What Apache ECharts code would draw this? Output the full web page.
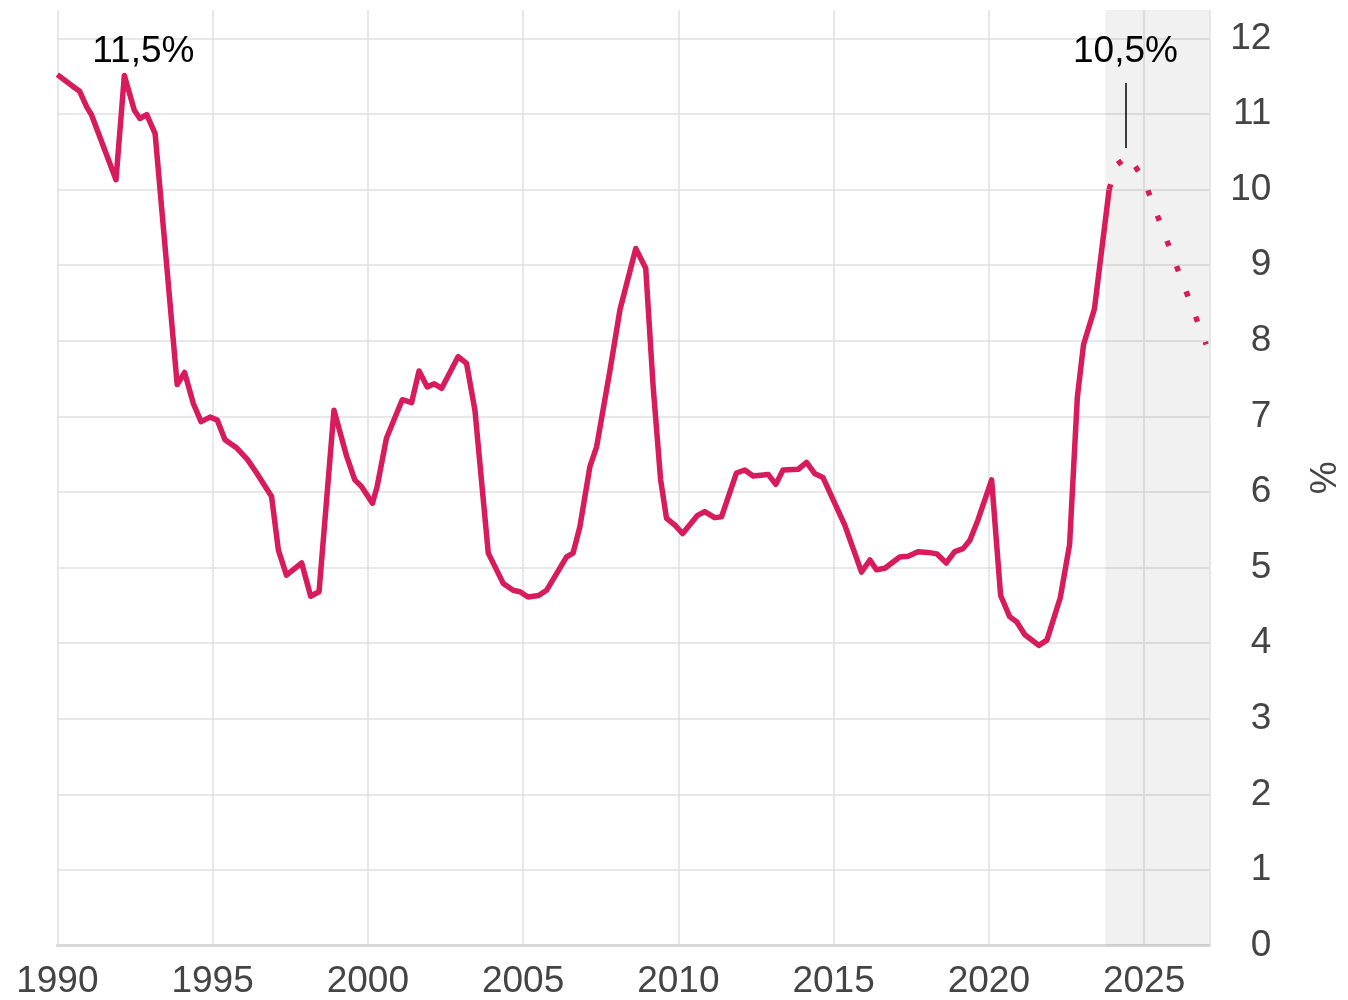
<!DOCTYPE html>
<html>
<head>
<meta charset="utf-8">
<style>
  html, body { margin: 0; padding: 0; background: #fff; }
  #chart { width: 1348px; height: 1000px; }
</style>
<script src="https://cdn.jsdelivr.net/npm/echarts@6/dist/echarts.min.js"></script>
</head>
<body>
<div id="chart"></div>
<script>
// Historical series (year as decimal, value in %)
const years = [
  1990.0, 1990.55, 1990.72, 1990.95, 1991.1, 1991.89, 1992.16, 1992.48, 1992.66, 1992.88,
  1993.15, 1993.86, 1994.1, 1994.38, 1994.63, 1994.92, 1995.15, 1995.4, 1995.78, 1996.12,
  1996.42, 1996.9, 1997.12, 1997.38, 1997.87, 1998.16, 1998.43, 1998.91, 1999.32, 1999.58,
  1999.8, 2000.15, 2000.3, 2000.6, 2000.93, 2001.11, 2001.41, 2001.65, 2001.91, 2002.14,
  2002.38, 2002.91, 2003.18, 2003.45, 2003.88, 2004.36, 2004.68, 2004.9, 2005.16, 2005.5,
  2005.76, 2006.08, 2006.4, 2006.61, 2006.83, 2007.15, 2007.37, 2007.8, 2008.12, 2008.63,
  2008.95, 2009.19, 2009.43, 2009.62, 2009.89, 2010.14, 2010.62, 2010.85, 2011.17, 2011.39,
  2011.87, 2012.14, 2012.41, 2012.9, 2013.14, 2013.37, 2013.86, 2014.13, 2014.4, 2014.66,
  2015.36, 2015.63, 2015.9, 2016.17, 2016.38, 2016.65, 2017.13, 2017.4, 2017.72, 2018.04,
  2018.33, 2018.63, 2018.9, 2019.17, 2019.39, 2019.65, 2020.09, 2020.38, 2020.67, 2020.9,
  2021.16, 2021.61, 2021.87, 2022.3, 2022.6, 2022.85, 2023.05, 2023.4, 2023.875
];
const rates = [
  11.52, 11.35, 11.30, 11.09, 10.99, 10.13, 11.51, 11.05, 10.94, 10.99,
  10.74, 7.42, 7.58, 7.17, 6.93, 6.99, 6.95, 6.69, 6.58, 6.43,
  6.25, 5.94, 5.23, 4.90, 5.06, 4.62, 4.68, 7.08, 6.47, 6.16,
  6.07, 5.85, 6.07, 6.71, 7.04, 7.22, 7.18, 7.60, 7.39, 7.43,
  7.37, 7.79, 7.70, 7.08, 5.19, 4.79, 4.70, 4.68, 4.61, 4.63,
  4.70, 4.92, 5.14, 5.19, 5.54, 6.33, 6.60, 7.61, 8.41, 9.22,
  8.96, 7.39, 6.16, 5.65, 5.56, 5.45, 5.69, 5.74, 5.66, 5.67,
  6.25, 6.29, 6.21, 6.23, 6.10, 6.29, 6.30, 6.39, 6.24, 6.19,
  5.56, 5.25, 4.94, 5.10, 4.97, 4.99, 5.14, 5.15, 5.21, 5.20,
  5.18, 5.06, 5.21, 5.25, 5.36, 5.63, 6.16, 4.63, 4.35, 4.28,
  4.11, 3.97, 4.04, 4.60, 5.30, 7.25, 7.95, 8.42, 10.00
];
// Forecast series
const fcYears = [2023.875, 2024.1, 2024.5, 2025.0, 2027.0];
const fcRates = [10.00, 10.32, 10.45, 10.12, 7.95];

// Axis ticks
const xTicks = [1990, 1995, 2000, 2005, 2010, 2015, 2020, 2025];
const yTicks = [0, 1, 2, 3, 4, 5, 6, 7, 8, 9, 10, 11, 12];

// Annotations
const peakLabel = { year: 1992.16, value: 11.51, text: '11,5%' };
const fcLabel = { year: 2024.4, value: 10.55, top: 11.41, text: '10,5%' };
const forecastStart = 2023.75;
const axisEnd = 2027.1;

const hist = years.map((y, i) => [y, rates[i]]);
const fc = fcYears.map((y, i) => [y, fcRates[i]]);

const FONT = 'Liberation Sans, Arial, Helvetica, sans-serif';
const chart = echarts.init(document.getElementById('chart'));
chart.setOption({
  animation: false,
  backgroundColor: '#ffffff',
  textStyle: { fontFamily: FONT },
  grid: { left: 57.3, right: 138.7, top: 10, bottom: 54.5, containLabel: false, outerBoundsMode: 'none' },
  xAxis: {
    type: 'value',
    min: 1990,
    max: axisEnd,
    interval: 5,
    axisLine: { show: true, lineStyle: { color: '#d9d9d9', width: 3 } },
    axisTick: { show: false },
    axisLabel: {
      color: '#444',
      fontSize: 37,
      fontFamily: FONT,
      margin: 18,
      showMaxLabel: false,
      formatter: v => (xTicks.indexOf(v) >= 0 ? String(v) : '')
    },
    splitLine: { show: true, lineStyle: { color: '#e0e0e0', width: 1.5 } }
  },
  yAxis: {
    type: 'value',
    position: 'right',
    min: 0,
    max: 12.375,
    interval: 1,
    name: '%',
    nameLocation: 'middle',
    nameGap: 98,
    nameTextStyle: { color: '#444', fontSize: 37, fontFamily: FONT },
    axisLine: { show: false },
    axisTick: { show: false },
    axisLabel: {
      color: '#444',
      fontSize: 37,
      fontFamily: FONT,
      align: 'right',
      margin: 62,
      showMaxLabel: false,
      formatter: v => (yTicks.indexOf(v) >= 0 ? String(v) : '')
    },
    splitLine: { show: true, showMaxLine: false, lineStyle: { color: '#e0e0e0', width: 1.5 } }
  },
  series: [
    {
      type: 'line',
      data: hist,
      showSymbol: false,
      symbol: 'none',
      lineStyle: { color: '#d81b5c', width: 5.5, join: 'round' },
      z: 3,
      markArea: {
        silent: true,
        itemStyle: { color: 'rgba(0,0,0,0.055)' },
        data: [[{ xAxis: forecastStart }, { xAxis: axisEnd }]]
      },
      markPoint: {
        silent: true,
        symbol: 'circle',
        symbolSize: 0,
        data: [{ coord: [peakLabel.year, peakLabel.value] }],
        label: {
          show: true,
          position: 'inside',
          offset: [19, -24],
          formatter: peakLabel.text,
          color: '#000',
          fontSize: 37,
          fontFamily: FONT
        }
      }
    },
    {
      type: 'line',
      data: fc,
      showSymbol: false,
      symbol: 'none',
      lineStyle: { color: '#d81b5c', width: 5.5, type: [5.5, 21.5], cap: 'butt' },
      z: 3,
      markLine: {
        silent: true,
        symbol: 'none',
        label: { show: false },
        lineStyle: { color: '#000', width: 1.5, type: 'solid' },
        data: [[{ coord: [fcLabel.year, fcLabel.value] }, { coord: [fcLabel.year, fcLabel.top] }]]
      },
      markPoint: {
        silent: true,
        symbol: 'circle',
        symbolSize: 0,
        data: [{ coord: [fcLabel.year, fcLabel.value] }],
        label: {
          show: true,
          position: 'inside',
          offset: [0, -96],
          formatter: fcLabel.text,
          color: '#000',
          fontSize: 37,
          fontFamily: FONT
        }
      }
    }
  ]
});
</script>
</body>
</html>
